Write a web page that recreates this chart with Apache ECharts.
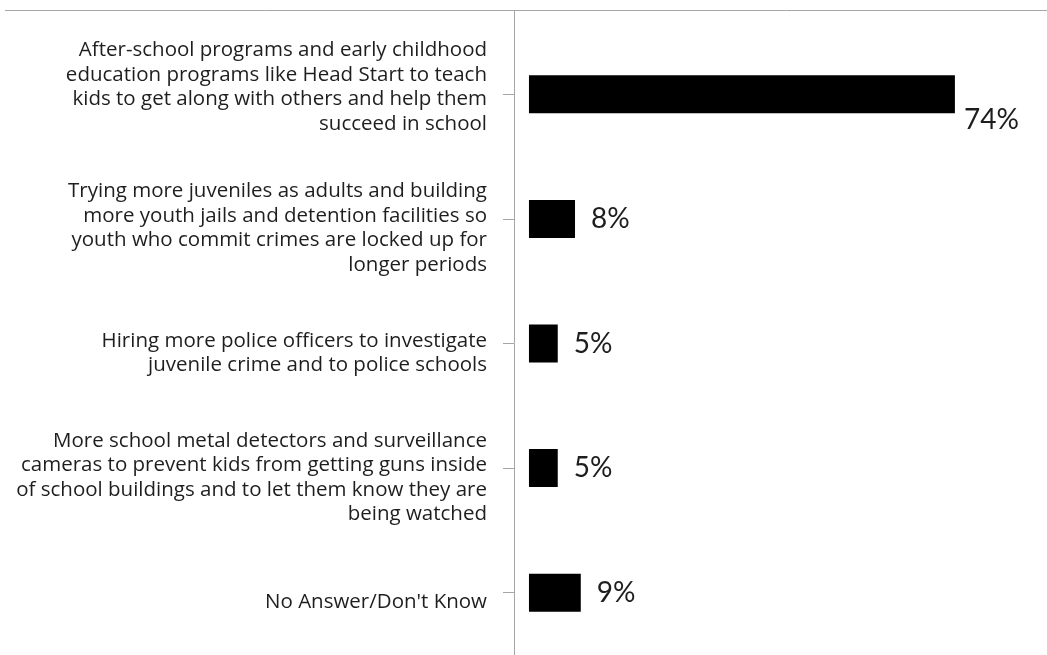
<!DOCTYPE html>
<html>
<head>
<meta charset="utf-8">
<title>Juvenile crime prevention preferences</title>
<script src="https://cdn.jsdelivr.net/npm/echarts@6/dist/echarts.min.js"></script>
<style>
  html, body { margin: 0; padding: 0; background: #ffffff; }
  #chart { width: 1047px; height: 655px; }
</style>
</head>
<body>
<div id="chart"></div>
<script>
// Answer options, top to bottom
const categories = [
  "After-school programs and early childhood\neducation programs like Head Start to teach\nkids to get along with others and help them\nsucceed in school",
  "Trying more juveniles as adults and building\nmore youth jails and detention facilities so\nyouth who commit crimes are locked up for\nlonger periods",
  "Hiring more police officers to investigate\njuvenile crime and to police schools",
  "More school metal detectors and surveillance\ncameras to prevent kids from getting guns inside\nof school buildings and to let them know they are\nbeing watched",
  "No Answer/Don't Know"
];

// Share of respondents choosing each option (%)
const values = [74, 8, 5, 5, 9];

const AXIS_GRAY = '#a6a6a6';
const TEXT = '#1e1e1e';
const GRID_LEFT = 514;
const GRID_TOP = 32;

const chart = echarts.init(document.getElementById('chart'), null, { renderer: 'canvas' });

// The long first bar carries its label below the bar end
const seriesData = values.map((v, i) => i === 0
  ? { value: v, label: { distance: 9, offset: [0, 26] } }
  : v);

chart.setOption({
  animation: false,
  backgroundColor: '#ffffff',
  grid: { left: GRID_LEFT, right: 0, top: GRID_TOP, height: 625, containLabel: false },
  xAxis: {
    type: 'value',
    min: -2.6,
    max: 90,
    show: false
  },
  yAxis: {
    type: 'category',
    inverse: true,
    data: categories,
    axisLine: { show: true, onZero: false, lineStyle: { color: AXIS_GRAY, width: 1 } },
    axisTick: { show: true, alignWithLabel: true, length: 11, lineStyle: { color: AXIS_GRAY, width: 1 } },
    axisLabel: {
      margin: 27,
      fontFamily: 'Open Sans',
      fontSize: 20.5,
      lineHeight: 24.5,
      color: TEXT,
      align: 'right',
      // a thin spacer line nudges each block off its tick: first one up, the rest down
      formatter: (value, index) => index === 0
        ? value + '\n{below| }'
        : '{above| }\n' + value,
      rich: {
        above: { fontSize: 1, lineHeight: 19 },
        below: { fontSize: 1, lineHeight: 14 }
      }
    },
    splitLine: { show: false }
  },
  graphic: [
    {
      type: 'line',
      shape: { x1: 5, y1: 10.5, x2: 1047, y2: 10.5 },
      style: { stroke: AXIS_GRAY, lineWidth: 1 },
      silent: true
    },
    {
      type: 'line',
      shape: { x1: GRID_LEFT + 0.5, y1: 10, x2: GRID_LEFT + 0.5, y2: GRID_TOP },
      style: { stroke: AXIS_GRAY, lineWidth: 1 },
      silent: true
    }
  ],
  series: [{
    type: 'bar',
    data: seriesData,
    barWidth: 38,
    itemStyle: { color: '#000000' },
    label: {
      show: true,
      position: 'right',
      distance: 16,
      fontFamily: 'Lato',
      fontSize: 28,
      color: TEXT,
      formatter: '{c}%'
    }
  }]
});
</script>
</body>
</html>
